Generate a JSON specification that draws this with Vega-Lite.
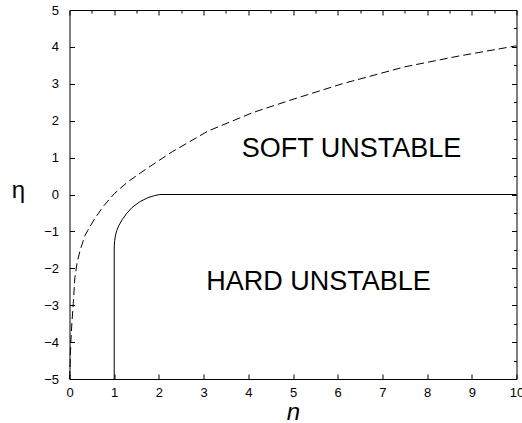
{
  "$schema": "https://vega.github.io/schema/vega-lite/v6.json",
  "width": 447,
  "height": 369,
  "autosize": {"type": "none"},
  "padding": {"left": 69.5, "top": 10, "right": 5.5, "bottom": 44},
  "background": "white",
  "datasets": {
    "dashed": [
      {"i": 0, "n": 0, "eta": -5},
      {"i": 1, "n": 0.015, "eta": -4.5},
      {"i": 2, "n": 0.03, "eta": -4.0},
      {"i": 3, "n": 0.055, "eta": -3.45},
      {"i": 4, "n": 0.085, "eta": -2.95},
      {"i": 5, "n": 0.12, "eta": -2.25},
      {"i": 6, "n": 0.17, "eta": -1.85},
      {"i": 7, "n": 0.24, "eta": -1.5},
      {"i": 8, "n": 0.35, "eta": -1.1},
      {"i": 9, "n": 0.53, "eta": -0.72},
      {"i": 10, "n": 0.75, "eta": -0.33},
      {"i": 11, "n": 1.0, "eta": 0.02},
      {"i": 12, "n": 1.3, "eta": 0.34},
      {"i": 13, "n": 1.7, "eta": 0.68},
      {"i": 14, "n": 2.3, "eta": 1.16},
      {"i": 15, "n": 3.1, "eta": 1.72},
      {"i": 16, "n": 4.1, "eta": 2.22},
      {"i": 17, "n": 5.0, "eta": 2.58},
      {"i": 18, "n": 6.1, "eta": 3.0},
      {"i": 19, "n": 7.5, "eta": 3.46},
      {"i": 20, "n": 8.7, "eta": 3.75},
      {"i": 21, "n": 10, "eta": 4.03}
    ],
    "solid": [
      {"i": 0, "n": 1, "eta": -5},
      {"i": 1, "n": 1, "eta": -1.45},
      {"i": 2, "n": 1.01, "eta": -1.25},
      {"i": 3, "n": 1.03, "eta": -1.1},
      {"i": 4, "n": 1.06, "eta": -0.97},
      {"i": 5, "n": 1.1, "eta": -0.85},
      {"i": 6, "n": 1.18, "eta": -0.68},
      {"i": 7, "n": 1.28, "eta": -0.51},
      {"i": 8, "n": 1.4, "eta": -0.35},
      {"i": 9, "n": 1.58, "eta": -0.19},
      {"i": 10, "n": 1.75, "eta": -0.09},
      {"i": 11, "n": 1.9, "eta": -0.03},
      {"i": 12, "n": 2.02, "eta": 0},
      {"i": 13, "n": 10, "eta": 0}
    ],
    "labels": [
      {"label": "SOFT UNSTABLE", "n": 6.31, "eta": 1.23},
      {"label": "HARD UNSTABLE", "n": 5.57, "eta": -2.36}
    ]
  },
  "resolve": {"axis": {"x": "independent", "y": "independent"}},
  "layer": [
    {
      "data": {"name": "dashed"},
      "mark": {"type": "line", "color": "black", "strokeWidth": 1, "strokeDash": [8, 4]},
      "encoding": {
        "x": {
          "field": "n", "type": "quantitative",
          "scale": {"domain": [0, 10], "nice": false, "zero": false},
          "axis": {
            "orient": "bottom",
            "values": [0, 0.5, 1, 1.5, 2, 2.5, 3, 3.5, 4, 4.5, 5, 5.5, 6, 6.5, 7, 7.5, 8, 8.5, 9, 9.5, 10],
            "format": "d",
            "labelExpr": "datum.value % 1 === 0 ? datum.label : ''",
            "tickSize": {"condition": {"test": "datum.value % 1 === 0", "value": -5}, "value": -3},
            "labelPadding": 12,
            "labelFlush": false,
            "labelOverlap": false,
            "title": "n",
            "titleFontStyle": "italic",
            "titleFontWeight": "normal",
            "titleFontSize": 24,
            "titleFont": "Liberation Sans",
            "titleBaseline": "alphabetic",
            "titleAnchor": "middle",
            "titleY": 40
          }
        },
        "y": {
          "field": "eta", "type": "quantitative",
          "scale": {"domain": [-5, 5], "nice": false, "zero": false},
          "axis": {
            "orient": "left",
            "values": [-5, -4.5, -4, -3.5, -3, -2.5, -2, -1.5, -1, -0.5, 0, 0.5, 1, 1.5, 2, 2.5, 3, 3.5, 4, 4.5, 5],
            "format": "d",
            "labelExpr": "datum.value % 1 === 0 ? datum.label : ''",
            "tickSize": {"condition": {"test": "datum.value % 1 === 0", "value": -5}, "value": -3},
            "labelPadding": 16,
            "labelFlush": false,
            "labelOverlap": false,
            "title": "η",
            "titleAngle": 0,
            "titleFontWeight": "normal",
            "titleFontSize": 24,
            "titleFont": "Liberation Sans",
            "titleAlign": "center",
            "titleBaseline": "middle",
            "titleX": -51.5,
            "titleY": 180
          }
        },
        "order": {"field": "i", "type": "quantitative"}
      }
    },
    {
      "data": {"name": "solid"},
      "mark": {"type": "line", "color": "black", "strokeWidth": 1},
      "encoding": {
        "x": {
          "field": "n", "type": "quantitative",
          "axis": {
            "orient": "top",
            "values": [0, 0.5, 1, 1.5, 2, 2.5, 3, 3.5, 4, 4.5, 5, 5.5, 6, 6.5, 7, 7.5, 8, 8.5, 9, 9.5, 10],
            "labels": false,
            "title": null,
            "tickSize": {"condition": {"test": "datum.value % 1 === 0", "value": -5}, "value": -3}
          }
        },
        "y": {
          "field": "eta", "type": "quantitative",
          "axis": {
            "orient": "right",
            "values": [-5, -4.5, -4, -3.5, -3, -2.5, -2, -1.5, -1, -0.5, 0, 0.5, 1, 1.5, 2, 2.5, 3, 3.5, 4, 4.5, 5],
            "labels": false,
            "title": null,
            "tickSize": {"condition": {"test": "datum.value % 1 === 0", "value": -5}, "value": -3}
          }
        },
        "order": {"field": "i", "type": "quantitative"}
      }
    },
    {
      "data": {"name": "labels"},
      "mark": {"type": "text", "font": "Liberation Sans", "fontSize": 27, "color": "black", "align": "center", "baseline": "middle"},
      "encoding": {
        "x": {"field": "n", "type": "quantitative", "axis": null},
        "y": {"field": "eta", "type": "quantitative", "axis": null},
        "text": {"field": "label", "type": "nominal"}
      }
    }
  ],
  "config": {
    "view": {"stroke": null},
    "axis": {
      "grid": false,
      "domainColor": "black",
      "domainWidth": 1,
      "tickColor": "black",
      "tickWidth": 1,
      "labelColor": "black",
      "labelFont": "Liberation Sans",
      "labelFontSize": 13,
      "titleColor": "black"
    }
  }
}
